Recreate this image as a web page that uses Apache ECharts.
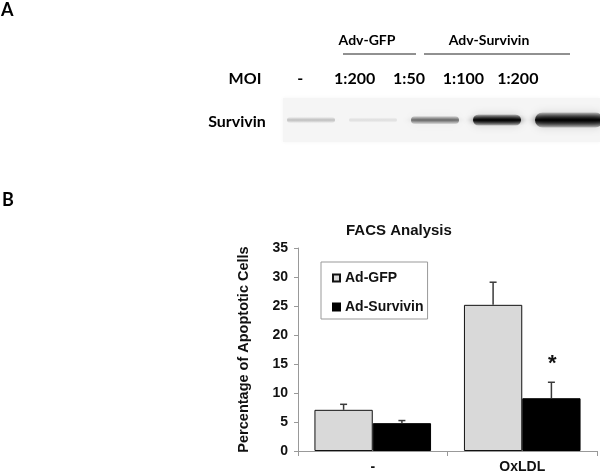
<!DOCTYPE html>
<html><head><meta charset="utf-8">
<script src="https://cdn.jsdelivr.net/npm/echarts@6/dist/echarts.min.js"></script>
<style>html,body{margin:0;padding:0;background:#fff}#c{width:600px;height:475px}</style>
</head><body><div id="c"></div>
<script>
// ---- Panel A: western blot ----
const laneLabels = ['-', '1:200', '1:50', '1:100', '1:200'];
const bandSignal = [18, 8, 45, 85, 130];

// ---- Panel B: FACS analysis ----
const conditions = ['-', 'OxLDL'];
const gfpValues = [7.1, 25.2];
const gfpErrors = [0.95, 3.9];
const survivinValues = [4.8, 9.1];
const survivinErrors = [0.45, 2.75];
const survivinMarks = ['', '*'];
const yMin = 0, yMax = 35, yStep = 5;

const BAR_FRAC = 0.39;
const FONT_B = '"Liberation Sans", Arial, sans-serif';
const FONT_A = 'Lato, "Open Sans", sans-serif';

function errorRender(sign, marks) {
  return function (params, api) {
    const idx = api.value(0), val = api.value(1), err = api.value(2);
    const band = api.size([1, 0])[0];
    const off = sign * band * BAR_FRAC / 2;
    const base = api.coord([idx, val]);
    const top = api.coord([idx, val + err]);
    const x = base[0] + off;
    const st = { stroke: '#3a3a3a', lineWidth: 1.5 };
    const children = [
      { type: 'line', shape: { x1: x, y1: base[1], x2: x, y2: top[1] }, style: st },
      { type: 'line', shape: { x1: x - 3.5, y1: top[1], x2: x + 3.5, y2: top[1] }, style: st }
    ];
    const m = marks && marks[params.dataIndex];
    if (m) {
      children.push({ type: 'text', style: { text: m, x: x + 1, y: top[1] - 18, align: 'center', verticalAlign: 'middle', font: 'bold 22px ' + FONT_B, fill: '#111' } });
    }
    return { type: 'group', children: children };
  };
}

function bandRender(params, api) {
  const idx = api.value(0), s = api.value(1);
  const c = api.coord([idx, 0.5]);
  const a = Math.min(1, s / 85);
  const h = 4 + s / 12;
  const w = 48 + Math.max(0, s - 90) / 2;
  const x0 = c[0] - w / 2 + Math.max(0, s - 90) / 4;
  return {
    type: 'rect',
    shape: { x: x0, y: c[1] - h / 2, width: w, height: h, r: h / 2 },
    style: {
      fill: new echarts.graphic.LinearGradient(0, 0, 0, 1, [
        { offset: 0, color: 'rgba(0,0,0,' + (a * 0.2) + ')' },
        { offset: 0.5, color: 'rgba(0,0,0,' + a + ')' },
        { offset: 1, color: 'rgba(0,0,0,' + (a * 0.2) + ')' }
      ]),
      shadowBlur: 9,
      shadowColor: 'rgba(0,0,0,' + (a * 0.7) + ')'
    }
  };
}

const chart = echarts.init(document.getElementById('c'), null, { renderer: 'canvas' });
chart.setOption({
  animation: false,
  backgroundColor: '#fff',
  title: {
    text: 'FACS Analysis', left: 346, top: 223, padding: 0,
    textStyle: { fontFamily: FONT_B, fontWeight: 'bold', fontSize: 15, color: '#111' }
  },
  legend: {
    data: ['Ad-GFP', 'Ad-Survivin'],
    orient: 'vertical', left: 321, top: 262,
    icon: 'rect', itemWidth: 7, itemHeight: 7, itemGap: 15,
    padding: [9, 4, 5, 11],
    borderColor: '#999', borderWidth: 1,
    textStyle: { fontFamily: FONT_B, fontWeight: 'bold', fontSize: 14, color: '#111', lineHeight: 14 }
  },
  grid: [
    { left: 298, top: 248, width: 299, height: 203 },
    { left: 280, top: 98, width: 310, height: 44 },
    { left: 273, top: 60, width: 272, height: 10 }
  ],
  xAxis: [
    {
      gridIndex: 0, type: 'category', data: conditions,
      axisLine: { lineStyle: { color: '#999', width: 1 } },
      axisTick: { show: true, length: 5, lineStyle: { color: '#999' } },
      axisLabel: { margin: 9, fontFamily: FONT_B, fontWeight: 'bold', fontSize: 14, color: '#111' }
    },
    { gridIndex: 1, type: 'category', data: laneLabels, show: false },
    {
      gridIndex: 2, type: 'category', data: laneLabels,
      axisLine: { show: false }, axisTick: { show: false },
      axisLabel: { margin: 1, fontFamily: FONT_A, fontWeight: 'bold', fontSize: 16, color: '#000' }
    }
  ],
  yAxis: [
    {
      gridIndex: 0, type: 'value', min: yMin, max: yMax, interval: yStep,
      name: 'Percentage of Apoptotic Cells', nameLocation: 'middle', nameGap: 47,
      nameTextStyle: { fontFamily: FONT_B, fontWeight: 'bold', fontSize: 14.5, color: '#111' },
      axisLine: { show: true, lineStyle: { color: '#999', width: 1 } },
      axisTick: { show: true, length: 4, lineStyle: { color: '#999' } },
      splitLine: { show: false },
      axisLabel: { margin: 10, fontFamily: FONT_B, fontWeight: 'bold', fontSize: 14, color: '#111' }
    },
    { gridIndex: 1, type: 'value', min: 0, max: 1, show: false },
    { gridIndex: 2, type: 'value', min: 0, max: 1, show: false }
  ],
  series: [
    {
      name: 'Ad-GFP', type: 'bar', xAxisIndex: 0, yAxisIndex: 0,
      data: gfpValues, barWidth: (BAR_FRAC * 100) + '%', barGap: '0%',
      itemStyle: { color: '#d9d9d9', borderColor: '#111', borderWidth: 1 }
    },
    {
      name: 'Ad-Survivin', type: 'bar', xAxisIndex: 0, yAxisIndex: 0,
      data: survivinValues, barWidth: (BAR_FRAC * 100) + '%', barGap: '0%',
      itemStyle: { color: '#000', borderColor: '#000', borderWidth: 1 }
    },
    {
      type: 'custom', xAxisIndex: 0, yAxisIndex: 0, z: 5,
      data: gfpValues.map((v, i) => [i, v, gfpErrors[i]]),
      renderItem: errorRender(-1, null)
    },
    {
      type: 'custom', xAxisIndex: 0, yAxisIndex: 0, z: 5,
      data: survivinValues.map((v, i) => [i, v, survivinErrors[i]]),
      renderItem: errorRender(1, survivinMarks)
    },
    {
      type: 'custom', xAxisIndex: 1, yAxisIndex: 1, z: 3,
      data: bandSignal.map((s, i) => [i, s]),
      renderItem: bandRender
    }
  ],
  graphic: [
    { type: 'rect', z: -1, shape: { x: 283, y: 98, width: 317, height: 44 }, style: { fill: '#f5f5f5', shadowBlur: 4, shadowColor: '#f5f5f5' } },
    { type: 'text', style: { text: 'A', x: 1, y: 10, verticalAlign: 'middle', font: 'bold 18px ' + FONT_A, fill: '#000' } },
    { type: 'text', style: { text: 'B', x: 2, y: 200, verticalAlign: 'middle', font: 'bold 18px ' + FONT_A, fill: '#000' } },
    { type: 'text', style: { text: 'Adv-GFP', x: 367, y: 40, align: 'center', verticalAlign: 'middle', font: 'bold 14px ' + FONT_A, fill: '#000' } },
    { type: 'text', style: { text: 'Adv-Survivin', x: 489, y: 40, align: 'center', verticalAlign: 'middle', font: 'bold 14px ' + FONT_A, fill: '#000' } },
    { type: 'line', shape: { x1: 343, y1: 54, x2: 416, y2: 54 }, style: { stroke: '#222', lineWidth: 1 } },
    { type: 'line', shape: { x1: 424, y1: 54, x2: 570, y2: 54 }, style: { stroke: '#222', lineWidth: 1 } },
    { type: 'text', style: { text: 'MOI', x: 245, y: 79, align: 'center', verticalAlign: 'middle', font: 'bold 16px ' + FONT_A, fill: '#000' } },
    { type: 'text', style: { text: 'Survivin', x: 237, y: 122, align: 'center', verticalAlign: 'middle', font: 'bold 16px ' + FONT_A, fill: '#000' } }
  ]
});
</script></body></html>
